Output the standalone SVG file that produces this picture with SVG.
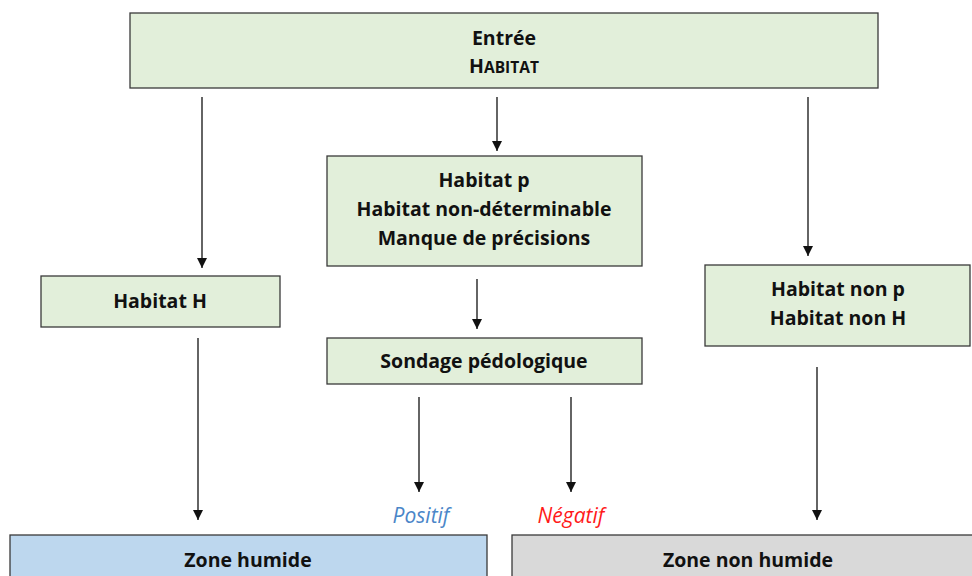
<svg xmlns="http://www.w3.org/2000/svg" width="972" height="576" viewBox="0 0 972 576">
<style>
.box{fill:#e2efda;stroke:#3a3a3a;stroke-width:1.3}
.t{font-family:"Open Sans",Lato,sans-serif;font-weight:bold;font-size:19.5px;fill:#111;text-anchor:middle}
.sc{font-size:15.5px}
.c line{stroke:#111;stroke-width:1.3;marker-end:url(#ah)}
.lab{font-family:"Open Sans",Lato,sans-serif;font-style:italic;font-size:21px;text-anchor:middle}
</style>
<defs>
<marker id="ah" viewBox="0 0 10 10" refX="10" refY="5" markerWidth="12" markerHeight="10" markerUnits="userSpaceOnUse" orient="auto">
<path d="M0,0 L10,5 L0,10 z" fill="#111"/>
</marker>
</defs>
<rect width="972" height="576" fill="#fff"/>
<g id="entree">
<rect class="box" x="130" y="13" width="748" height="75"/>
<text class="t" x="504" y="45">Entrée</text>
<text class="t" x="504" y="73">H<tspan class="sc">ABITAT</tspan></text>
</g>
<g id="habitat-p">
<rect class="box" x="327" y="156" width="315" height="110"/>
<text class="t" x="484" y="187">Habitat p</text>
<text class="t" x="484" y="216">Habitat non-déterminable</text>
<text class="t" x="484" y="245">Manque de précisions</text>
</g>
<g id="habitat-h">
<rect class="box" x="41" y="276" width="239" height="51"/>
<text class="t" x="160" y="308">Habitat H</text>
</g>
<g id="habitat-non">
<rect class="box" x="705" y="265" width="265" height="81"/>
<text class="t" x="838" y="296">Habitat non p</text>
<text class="t" x="838" y="325">Habitat non H</text>
</g>
<g id="sondage">
<rect class="box" x="327" y="338" width="315" height="46"/>
<text class="t" x="484" y="368">Sondage pédologique</text>
</g>
<g id="zone-humide">
<rect x="10" y="535" width="477" height="50" fill="#bdd7ee" stroke="#3a3a3a" stroke-width="1.3"/>
<text class="t" x="248" y="567">Zone humide</text>
</g>
<g id="zone-non-humide">
<rect x="512" y="535" width="470" height="50" fill="#d9d9d9" stroke="#3a3a3a" stroke-width="1.3"/>
<text class="t" x="748" y="567">Zone non humide</text>
</g>
<g class="c" id="connectors">
<line x1="202" y1="97" x2="202" y2="268"/>
<line x1="497" y1="97" x2="497" y2="151"/>
<line x1="808" y1="97" x2="808" y2="256"/>
<line x1="477" y1="279" x2="477" y2="329"/>
<line x1="419" y1="397" x2="419" y2="492"/>
<line x1="571" y1="397" x2="571" y2="492"/>
<line x1="198" y1="338" x2="198" y2="520"/>
<line x1="817" y1="367" x2="817" y2="520"/>
</g>
<text class="lab" x="421" y="523" fill="#4a86c8">Positif</text>
<text class="lab" x="571" y="523" fill="#ff1a1a">Négatif</text>
</svg>
